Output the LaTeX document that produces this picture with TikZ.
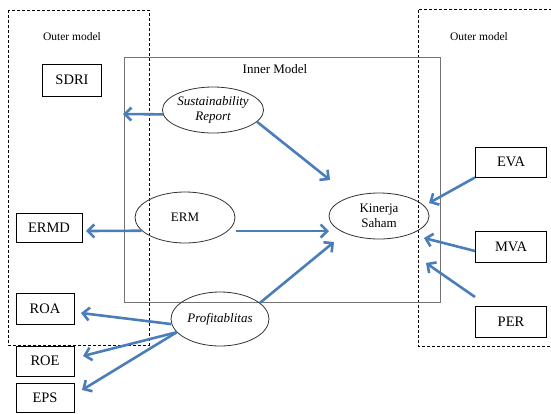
\documentclass[tikz,border=0pt]{standalone}
\usepackage{fontspec}
\setmainfont{Liberation Serif}
\usetikzlibrary{shapes.geometric,arrows.meta}
\definecolor{arrblue}{RGB}{74,126,187}
\tikzset{
  arr/.style={draw=arrblue, line width=2.6pt, -{Straight Barb[length=6.5pt,width=13pt]}},
  outerbox/.style={draw=black, line width=0.8pt, dash pattern=on 3pt off 2pt},
  innerbox/.style={draw=black!55, line width=0.7pt},
  ind/.style={draw=black, line width=0.9pt, rectangle, inner sep=0pt, font=\fontsize{14.5}{16}\selectfont},
  lat/.style={draw=black!80, line width=0.8pt, ellipse, inner sep=0pt, align=center, font=\fontsize{13}{15}\selectfont},
  lbl/.style={inner sep=0pt, font=\fontsize{11.5}{13}\selectfont}
}
\begin{document}
\begin{tikzpicture}[x=1pt,y=-1pt]
\useasboundingbox (0,0) rectangle (551,413);
% frames
\draw[outerbox] (8,10) rectangle (149,345);
\draw[outerbox] (552,9) -- (418,9) -- (418,346) -- (552,346);
\draw[innerbox] (124,57) rectangle (440,302);
\node[lbl] (outL) at (72,37) {Outer model};
\node[lbl] (outR) at (479,37) {Outer model};
\node[inner sep=0pt, font=\fontsize{13}{14}\selectfont] (inner) at (275,69) {Inner Model};
% indicators
\node[ind, minimum width=59pt, minimum height=32pt] (sdri) at (72,80) {SDRI};
\node[ind, minimum width=66pt, minimum height=29pt] (ermd) at (49,228) {ERMD};
\node[ind, minimum width=58pt, minimum height=31pt] (roa) at (45,309) {ROA};
\node[ind, minimum width=58pt, minimum height=30pt] (roe) at (45,361) {ROE};
\node[ind, minimum width=58pt, minimum height=29pt] (eps) at (45,397.5) {EPS};
\node[ind, minimum width=71pt, minimum height=30pt] (eva) at (511,162) {EVA};
\node[ind, minimum width=71pt, minimum height=31pt] (mva) at (511,246.5) {MVA};
\node[ind, minimum width=71pt, minimum height=31pt] (per) at (511,321.5) {PER};
% latent variables
\node[lat, minimum width=100pt, minimum height=46pt] (sr) at (213,110) {\itshape Sustainability\\\itshape Report};
\node[lat, minimum width=100pt, minimum height=51pt] (erm) at (185,217.5) {ERM};
\node[lat, minimum width=100pt, minimum height=46pt] (kin) at (379,216) {Kinerja\\Saham};
\node[lat, minimum width=98pt, minimum height=54pt] (prof) at (220,319) {\itshape Profitablitas};
% free arrow ends
\coordinate (srTip) at (123,114);
\coordinate (kinA) at (330,180);
\coordinate (ermdTip) at (86,231);
\coordinate (ermStart) at (236,231);
\coordinate (kinB) at (329,231);
\coordinate (kinC) at (334,242);
\coordinate (evaTip) at (429,203);
\coordinate (mvaTip) at (424,238);
\coordinate (perTip) at (426,263);
\coordinate (perStart) at (475,297);
\coordinate (roaTip) at (81,313);
\coordinate (roeTip) at (83,356);
\coordinate (epsTip) at (82,390);
% arrows
\draw[arr] (sr.185) -- (srTip);
\draw[arr] (sr.-15) -- (kinA);
\draw[arr] (erm.197.7) -- (ermdTip);
\draw[arr] (ermStart) -- (kinB);
\draw[arr] (prof.22) -- (kinC);
\draw[arr] (eva.south west) -- (evaTip);
\draw[arr] ([yshift=-4.5pt]mva.west) -- (mvaTip);
\draw[arr] (perStart) -- (perTip);
\draw[arr] (prof.186) -- (roaTip);
\draw[arr] (prof.197) -- (roeTip);
\draw[arr] (prof.197) -- (epsTip);
\end{tikzpicture}
\end{document}
